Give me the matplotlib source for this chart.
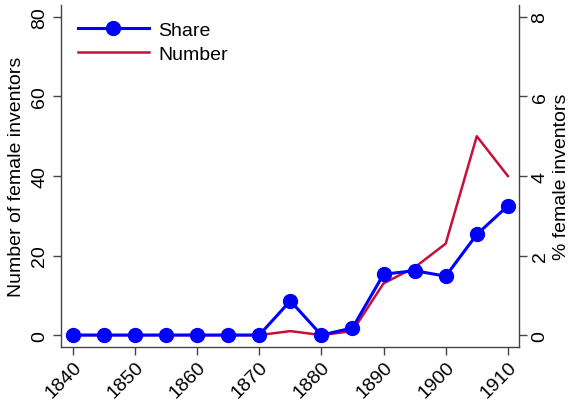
import matplotlib
matplotlib.use("Agg")
import matplotlib.pyplot as plt
import numpy as np

plt.rcParams['font.family'] = ['Liberation Sans', 'DejaVu Sans']

# data
years = [1840, 1845, 1850, 1855, 1860, 1865, 1870, 1875, 1880, 1885, 1890, 1895, 1900, 1905, 1910]
share = [0, 0, 0, 0, 0, 0, 0, 0.86, 0, 0.18, 1.53, 1.62, 1.48, 2.53, 3.25]
number = [0, 0, 0, 0, 0, 0, 0, 1, 0, 1, 13, 17, 23, 50, 40]
xticks = [1840, 1850, 1860, 1870, 1880, 1890, 1900, 1910]
left_ticks = [0, 20, 40, 60, 80]
right_ticks = [0, 2, 4, 6, 8]

blue = '#0000FF'
red = '#C80F3C'
spine_col = '#444444'
fs = 14

fig = plt.figure(figsize=(5.71, 4.02), dpi=100)
ax = fig.add_axes([0.1068, 0.1343, 0.8022, 0.8507])
ax2 = ax.twinx()

# Number on the left axis, Share on the right
ax.plot(years, number, color=red, lw=1.8, zorder=2)
ax2.plot(years, share, color=blue, lw=2.2, marker='o', ms=10, zorder=3)

ax.set_xlim(1838.1, 1911.8)
ax.set_ylim(-3, 83)
ax2.set_ylim(-0.3, 8.3)

ax.set_xticks(xticks)
ax.set_xticklabels([str(t) for t in xticks], rotation=45, ha='right', rotation_mode='anchor', fontsize=fs)
ax.set_yticks(left_ticks)
ax.set_yticklabels([str(t) for t in left_ticks], rotation=90, va='center', fontsize=fs)
ax2.set_yticks(right_ticks)
ax2.set_yticklabels([str(t) for t in right_ticks], rotation=90, va='center', fontsize=fs)

ax.set_ylabel("Number of female inventors", fontsize=fs, labelpad=5)
ax2.set_ylabel("% female inventors", fontsize=fs, labelpad=3)

for a in (ax, ax2):
    a.spines['top'].set_visible(False)
    for s in ('left', 'right', 'bottom'):
        a.spines[s].set_color(spine_col)
        a.spines[s].set_linewidth(1.0)
    a.tick_params(length=6, width=1.0, color=spine_col, pad=3)
ax.tick_params(axis='x', pad=2)
ax.spines['right'].set_visible(False)
ax2.spines['left'].set_visible(False)
ax2.spines['bottom'].set_visible(False)

# legend built from both lines
h1 = ax2.lines[0]
h2 = ax.lines[0]
ax2.legend([h1, h2], ['Share', 'Number'], loc='upper left', frameon=False, fontsize=fs,
           handlelength=3.7, handletextpad=0.45, borderaxespad=0.45, labelspacing=0.3,
           bbox_to_anchor=(0.0, 1.0))

fig.savefig('out.png', dpi=100)
